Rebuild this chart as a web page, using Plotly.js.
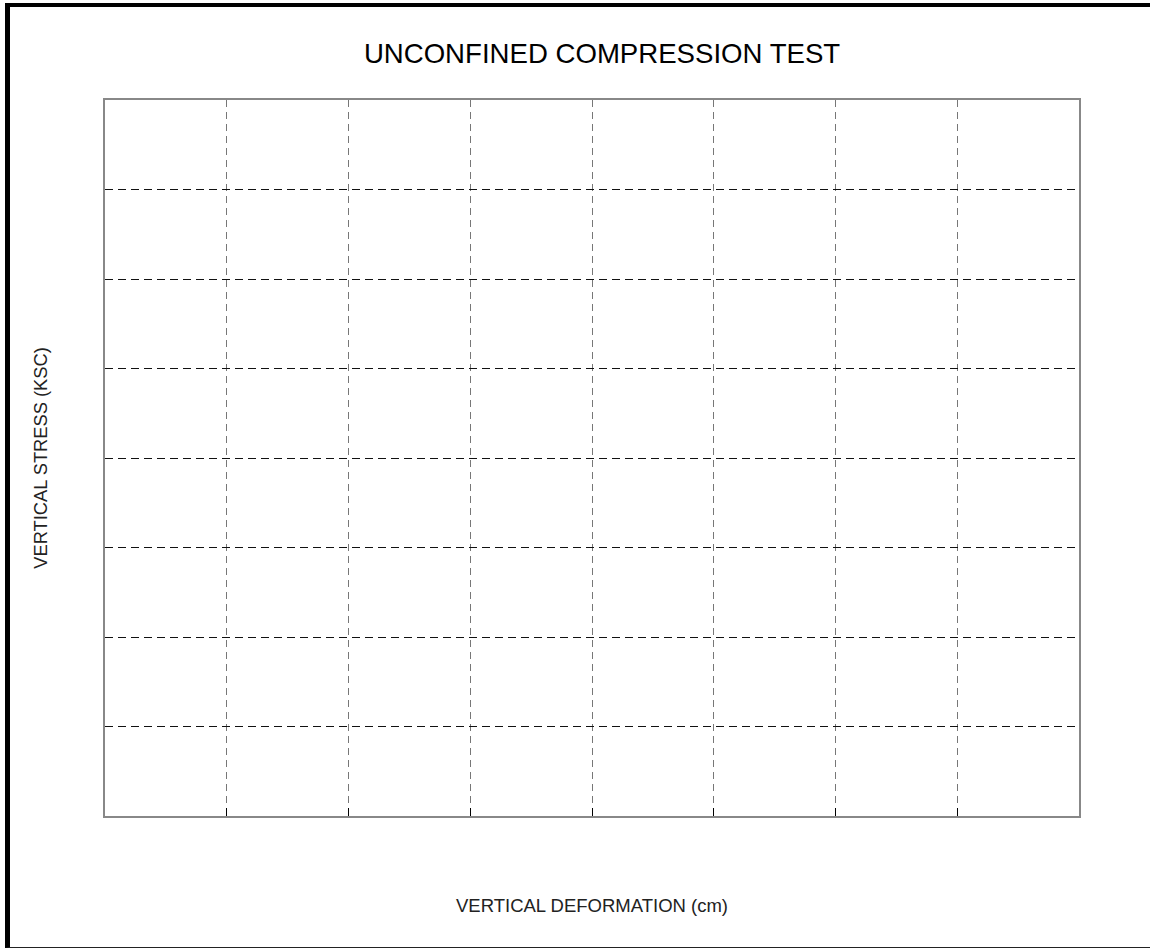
<!DOCTYPE html>
<html>
<head>
<meta charset="utf-8">
<script src="https://cdn.plot.ly/plotly-3.0.1.min.js"></script>
<style>
  html, body { margin: 0; padding: 0; background: #fff; }
  #wrap { position: relative; width: 1150px; height: 948px; }
  #chart { position: absolute; left: 0; top: 0; width: 1150px; height: 948px; }
  #frame { position: absolute; left: 5px; top: 3px; width: 1150px; height: 940px;
           border-left: 5px solid #000; border-top: 4px solid #000; border-bottom: 1px solid #222;
           pointer-events: none; background: transparent; }
</style>
</head>
<body>
<div id="wrap">
  <div id="chart"></div>
  <div id="frame"></div>
</div>
<script>
// Data (the reference chart is an empty test sheet: no measured points)
const deformation = [];   // VERTICAL DEFORMATION (cm)
const stress = [];        // VERTICAL STRESS (KSC)
const xTickVals = [0, 1, 2, 3, 4, 5, 6, 7, 8];
const yTickVals = [0, 1, 2, 3, 4, 5, 6, 7, 8];
const chartTitle = "UNCONFINED COMPRESSION TEST";
const xTitle = "VERTICAL DEFORMATION (cm)";
const yTitle = "VERTICAL STRESS (KSC)";

const font = "Liberation Sans, Arial, sans-serif";

const data = [{
  x: deformation, y: stress, type: "scatter", mode: "lines+markers",
  line: { color: "#000" }, showlegend: false
}];

const layout = {
  width: 1150, height: 948,
  margin: { l: 105, r: 71, t: 100, b: 132 },
  paper_bgcolor: "#fff", plot_bgcolor: "#fff",
  font: { family: font, color: "#000" },
  title: {
    text: chartTitle,
    font: { family: font, size: 27.6, color: "#000" },
    x: 0.5103, xref: "paper", xanchor: "center",
    y: 1 - 53 / 948, yref: "container", yanchor: "middle"
  },
  xaxis: {
    range: [xTickVals[0], xTickVals[xTickVals.length - 1]],
    tickmode: "array", tickvals: xTickVals, showticklabels: false,
    ticks: "inside", ticklen: 8, tickwidth: 1, tickcolor: "#000",
    showgrid: true, gridcolor: "#777", gridwidth: 1, griddash: "7px,5px",
    showline: true, linecolor: "#888", linewidth: 2, mirror: true,
    zeroline: false, fixedrange: true, automargin: false,
    title: { text: xTitle + "\u00a0", font: { family: font, size: 18.5, color: "#222" }, standoff: 82 }
  },
  yaxis: {
    range: [yTickVals[0], yTickVals[yTickVals.length - 1]],
    tickmode: "array", tickvals: yTickVals, showticklabels: false,
    ticks: "",
    showgrid: true, gridcolor: "#111", gridwidth: 1, griddash: "8px,5px",
    showline: true, linecolor: "#888", linewidth: 2, mirror: true,
    zeroline: false, fixedrange: true, automargin: false,
    title: { text: yTitle + "\u00a0", font: { family: font, size: 18.3, color: "#222" }, standoff: 51 }
  }
};

Plotly.newPlot("chart", data, layout, { displayModeBar: false, staticPlot: true });
</script>
</body>
</html>
